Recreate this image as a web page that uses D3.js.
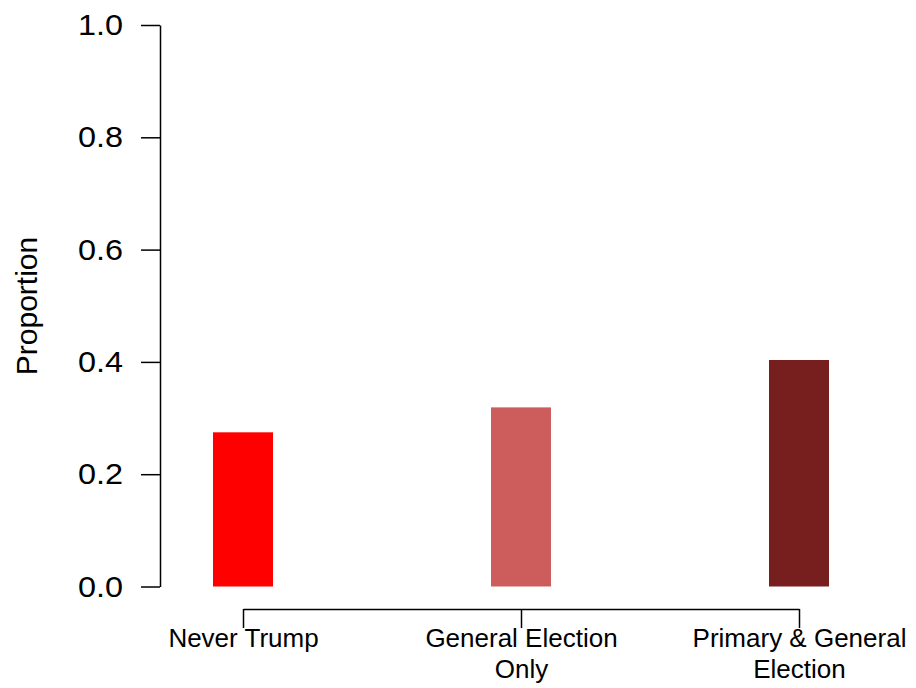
<!DOCTYPE html>
<html><head><meta charset="utf-8">
<script src="https://cdn.jsdelivr.net/npm/d3@7"></script>
<style>body{margin:0;background:#fff}</style>
</head><body>
<svg id="c" width="916" height="688"></svg>
<script>
const categories = ["Never Trump", "General Election\nOnly", "Primary & General\nElection"];
const values = [0.2746, 0.319, 0.4034];
const colors = ["#FF0000", "#CD5C5C", "#771F1F"];
const yTicks = [0, 0.2, 0.4, 0.6, 0.8, 1.0];

const svg = d3.select("#c");
const font = "'Liberation Sans', Arial, Helvetica, sans-serif";
const y = d3.scaleLinear().domain([0, 1]).range([586.5, 25]);
const x = d3.scalePoint().domain(categories).range([243, 799]);
const barW = 60;

svg.selectAll("rect.bar").data(categories).enter().append("rect")
  .attr("class", "bar")
  .attr("x", d => x(d) - barW / 2)
  .attr("width", barW)
  .attr("y", (d, i) => y(values[i]))
  .attr("height", (d, i) => y(0) - y(values[i]))
  .attr("fill", (d, i) => colors[i]);

const ya = svg.append("g").attr("transform", "translate(160,0)")
  .call(d3.axisLeft(y).tickValues(yTicks).tickFormat(d3.format(".1f")).tickSize(19).tickSizeOuter(0).tickPadding(16));
ya.select(".domain").attr("stroke", "#000").attr("stroke-width", 1.5);
ya.selectAll(".tick line").attr("stroke", "#000").attr("stroke-width", 1.5);
ya.selectAll(".tick text").attr("font-family", font).attr("font-size", 30).attr("fill", "#000")
  .attr("transform", "scale(1.08,1)").attr("x", -37 / 1.08);

const xa = svg.append("g").attr("transform", "translate(0,609)")
  .call(d3.axisBottom(x).tickSize(19).tickSizeOuter(0).tickFormat(""));
xa.select(".domain").attr("stroke", "#000").attr("stroke-width", 1.5);
xa.selectAll(".tick line").attr("stroke", "#000").attr("stroke-width", 1.5);
xa.selectAll(".tick").each(function(d) {
  const t = d3.select(this).append("text")
    .attr("font-family", font).attr("font-size", 26).attr("fill", "#000")
    .attr("text-anchor", "middle").attr("y", 38);
  d.split("\n").forEach((line, i) => {
    t.append("tspan").attr("x", 0).attr("dy", i === 0 ? 0 : 31).text(line);
  });
});

svg.append("text")
  .attr("transform", "translate(37,306) rotate(-90)")
  .attr("text-anchor", "middle")
  .attr("font-family", font).attr("font-size", 30).attr("fill", "#000")
  .text("Proportion");
</script>
</body></html>
